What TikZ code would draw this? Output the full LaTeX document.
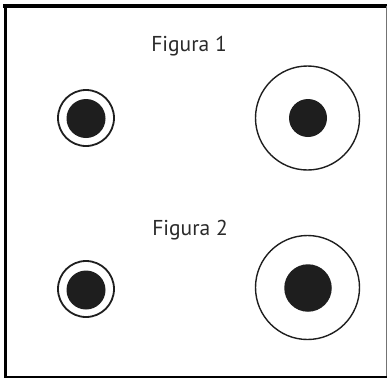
\documentclass[tikz,border=0pt]{standalone}
\usepackage{fontspec}
\setmainfont{PT Sans}
\definecolor{ink}{HTML}{1E1E1E}
\definecolor{txt}{HTML}{2A2A2A}
\begin{document}
\begin{tikzpicture}[x=1pt,y=-1pt,
  ring/.style={circle,draw=ink,line width=1.4pt,inner sep=0pt,fill=white},
  dot/.style={circle,fill=ink,inner sep=0pt},
  lbl/.style={anchor=base,text=txt,inner sep=0pt,font=\fontsize{21.5}{24}\selectfont}]
\useasboundingbox (0,0) rectangle (387,378);
\fill[white] (0,0) rectangle (387,378);
% frame
\draw[line width=4pt,black] (3,6) -- (387,6);
\draw[line width=3.4pt,black] (5.5,4) -- (5.5,378);
\draw[line width=1pt,black!55] (386.3,6) -- (386.3,377);
\draw[line width=2pt,black] (4,377) -- (387,377);
% labels
\node[lbl] (t1) at (189,51.7) {Figura 1};
\node[lbl] (t2) at (190,235.7) {Figura 2};
% figure 1
\node[ring,line width=1.8pt,minimum size=56pt] (a1) at (86,118) {};
\node[dot,minimum size=39pt] (a1d) at (86,118.5) {};
\node[ring,minimum size=104pt] (b1) at (307.5,118) {};
\node[dot,minimum size=38pt] (b1d) at (308,118) {};
% figure 2
\node[ring,line width=1.8pt,minimum size=56pt] (a2) at (86,289) {};
\node[dot,minimum size=39pt] (a2d) at (86,290) {};
\node[ring,minimum size=104pt] (b2) at (307.5,287.5) {};
\node[dot,minimum size=47.5pt] (b2d) at (308,288) {};
\end{tikzpicture}
\end{document}
